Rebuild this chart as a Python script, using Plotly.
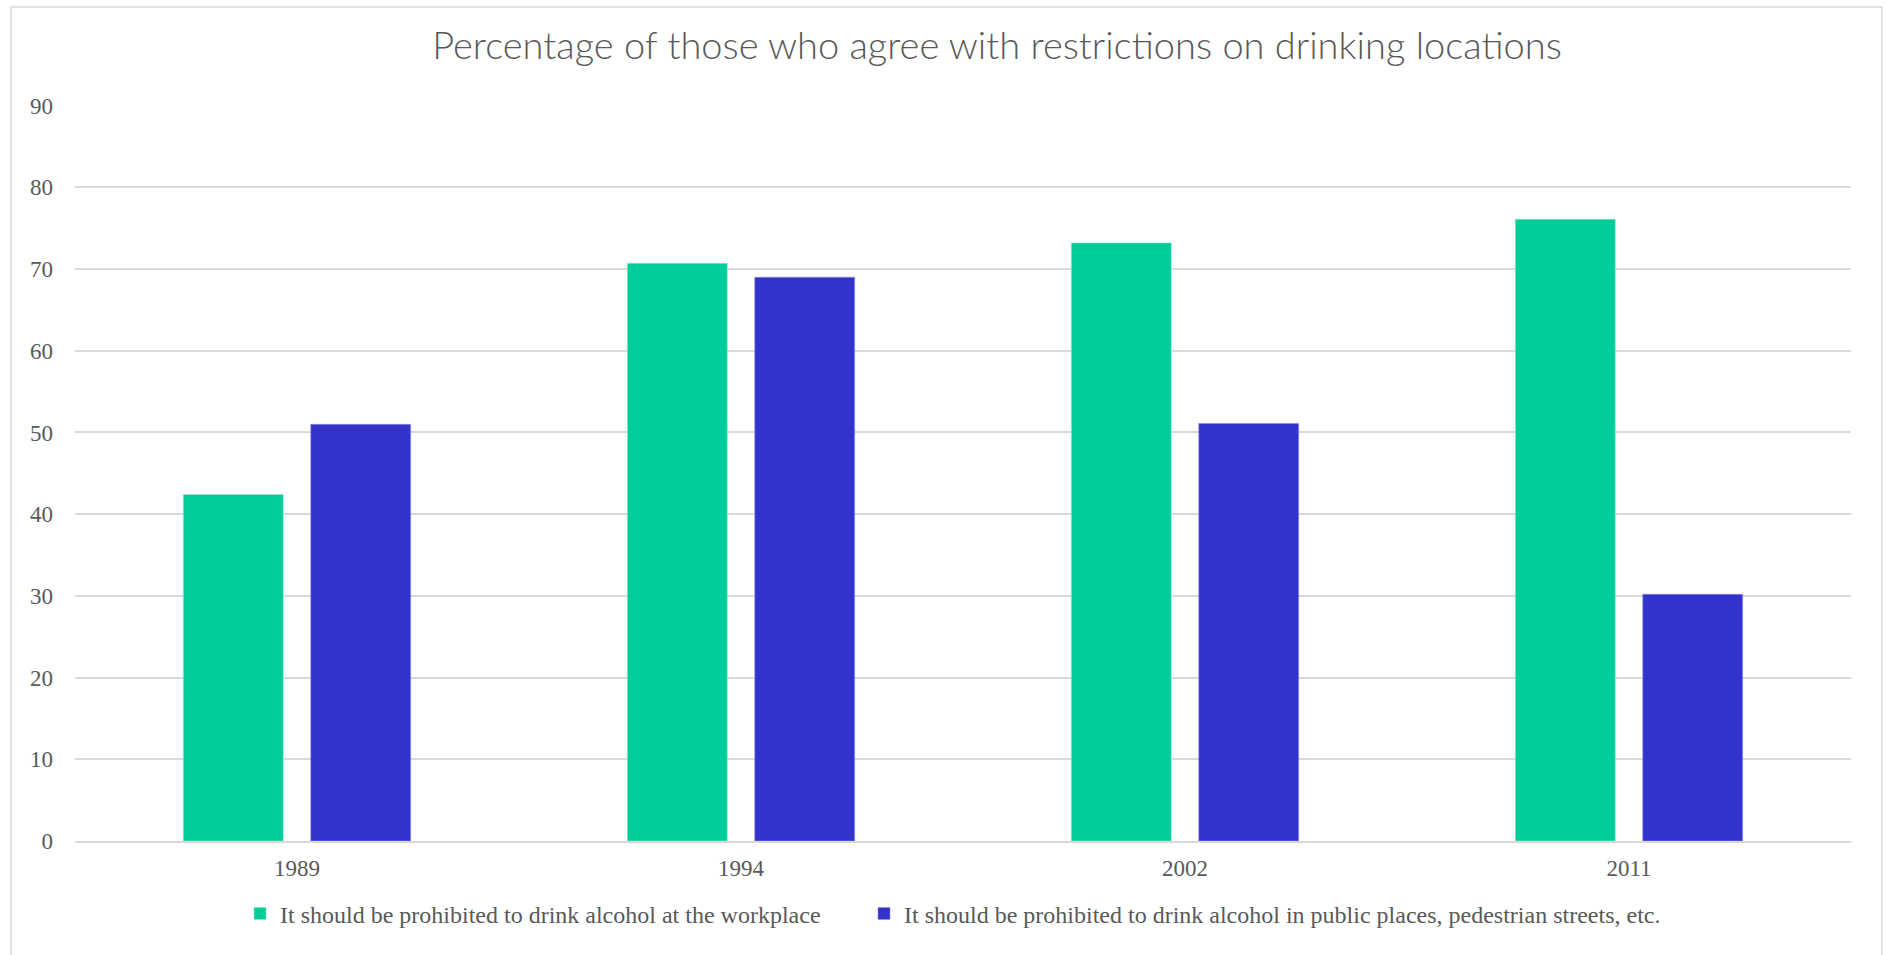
import plotly.graph_objects as go

years = ["1989", "1994", "2002", "2011"]
workplace = [42.4, 70.7, 73.2, 76.1]
public_places = [51.0, 69.0, 51.1, 30.2]
series_names = [
    "It should be prohibited to drink alcohol at the workplace",
    "It should be prohibited to drink alcohol in public places, pedestrian streets, etc.",
]
y_ticks = [0, 10, 20, 30, 40, 50, 60, 70, 80, 90]

GREEN = "#00CC99"
BLUE = "#3333CC"
GRID = "#d9d9d9"
TEXT = "#595959"
SERIF = "Liberation Serif, Times New Roman, serif"

fig = go.Figure()
fig.add_trace(go.Bar(x=years, y=workplace, name=series_names[0], legend="legend",
                     marker=dict(color=GREEN, line=dict(color="#8fe8d0", width=0.6))))
fig.add_trace(go.Bar(x=years, y=public_places, name=series_names[1], legend="legend2",
                     marker=dict(color=BLUE, line=dict(color="#8f8fe6", width=0.6))))

# outer chart frame
fig.add_shape(type="rect", xref="paper", yref="paper",
              x0=-0.036, x1=1.0175, y0=-0.17, y1=1.133,
              line=dict(color=GRID, width=1.5), fillcolor="rgba(0,0,0,0)", layer="below")

legend_style = dict(orientation="h", y=-0.099, yanchor="middle", xanchor="left",
                    font=dict(family=SERIF, size=24, color=TEXT), itemwidth=30,
                    bgcolor="rgba(0,0,0,0)")

fig.update_layout(
    width=1887, height=955,
    margin=dict(l=75, r=36, t=105, b=114),
    paper_bgcolor="white", plot_bgcolor="white",
    barmode="group", bargap=0.426, bargroupgap=0.216,
    title=dict(text="Percentage of those who agree with restrictions on drinking locations",
               x=997 / 1887, xanchor="center", xref="container",
               y=1 - 46 / 955, yanchor="middle", yref="container",
               font=dict(family="Lato, Century Gothic, sans-serif", size=38, color=TEXT, weight=300)),
    xaxis=dict(tickfont=dict(family=SERIF, size=23, color=TEXT),
               showgrid=False, showline=True, linecolor=GRID, linewidth=1.5,
               ticks="", ticklabelstandoff=6),
    yaxis=dict(range=[0, 90.08], tickvals=y_ticks,
               tickfont=dict(family=SERIF, size=23, color=TEXT),
               showgrid=True, gridcolor=GRID, gridwidth=1.5,
               zeroline=False, showline=False, ticks="", ticklabelstandoff=21),
    legend=dict(x=(240 - 75) / 1776, **legend_style),
    legend2=dict(x=(864 - 75) / 1776, **legend_style),
    showlegend=True,
)

fig.write_html("out.html")
